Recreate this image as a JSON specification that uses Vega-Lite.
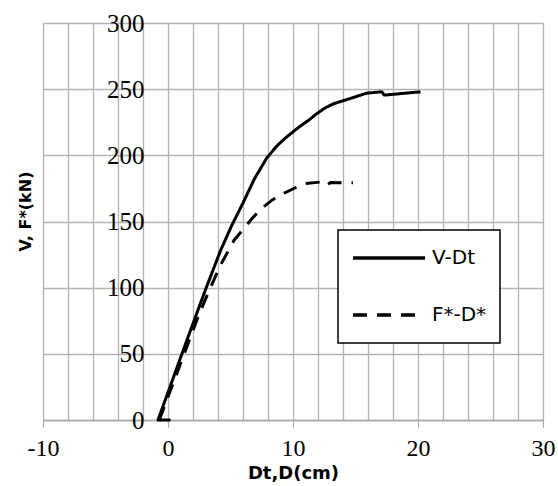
{
  "$schema": "https://vega.github.io/schema/vega-lite/v6.json",
  "width": 500,
  "height": 397,
  "autosize": {"type": "none"},
  "padding": {"left": 43, "top": 23, "right": 15, "bottom": 66},
  "background": "white",
  "config": {
    "view": {"stroke": null},
    "legend": {"strokeWidth": 1.5}
  },
  "data": {
    "values": [
      {"s": "V-Dt", "i": 0, "x": 0.2, "y": 0},
      {"s": "V-Dt", "i": 1, "x": -0.8, "y": 0},
      {"s": "V-Dt", "i": 2, "x": 1.5, "y": 60},
      {"s": "V-Dt", "i": 3, "x": 2.9, "y": 96},
      {"s": "V-Dt", "i": 4, "x": 4.2, "y": 128},
      {"s": "V-Dt", "i": 5, "x": 5.1, "y": 147},
      {"s": "V-Dt", "i": 6, "x": 6.0, "y": 164},
      {"s": "V-Dt", "i": 7, "x": 6.9, "y": 182},
      {"s": "V-Dt", "i": 8, "x": 7.9, "y": 198},
      {"s": "V-Dt", "i": 9, "x": 8.7, "y": 207},
      {"s": "V-Dt", "i": 10, "x": 9.5, "y": 214},
      {"s": "V-Dt", "i": 11, "x": 10.5, "y": 221.5},
      {"s": "V-Dt", "i": 12, "x": 11.25, "y": 226.5},
      {"s": "V-Dt", "i": 13, "x": 11.9, "y": 231.5},
      {"s": "V-Dt", "i": 14, "x": 12.6, "y": 236},
      {"s": "V-Dt", "i": 15, "x": 13.25, "y": 239},
      {"s": "V-Dt", "i": 16, "x": 14.6, "y": 243},
      {"s": "V-Dt", "i": 17, "x": 15.9, "y": 247},
      {"s": "V-Dt", "i": 18, "x": 17.1, "y": 248},
      {"s": "V-Dt", "i": 19, "x": 17.3, "y": 245.5},
      {"s": "V-Dt", "i": 20, "x": 20.2, "y": 248},
      {"s": "F*-D*", "i": 0, "x": -0.7, "y": 0},
      {"s": "F*-D*", "i": 1, "x": 0.9, "y": 40},
      {"s": "F*-D*", "i": 2, "x": 2.45, "y": 79},
      {"s": "F*-D*", "i": 3, "x": 3.3, "y": 98},
      {"s": "F*-D*", "i": 4, "x": 4.2, "y": 117},
      {"s": "F*-D*", "i": 5, "x": 5.3, "y": 136},
      {"s": "F*-D*", "i": 6, "x": 6.7, "y": 152},
      {"s": "F*-D*", "i": 7, "x": 7.5, "y": 160},
      {"s": "F*-D*", "i": 8, "x": 8.3, "y": 166},
      {"s": "F*-D*", "i": 9, "x": 9.3, "y": 171.5},
      {"s": "F*-D*", "i": 10, "x": 10.3, "y": 176},
      {"s": "F*-D*", "i": 11, "x": 11.0, "y": 178.7},
      {"s": "F*-D*", "i": 12, "x": 12.4, "y": 180},
      {"s": "F*-D*", "i": 13, "x": 12.7, "y": 177.5},
      {"s": "F*-D*", "i": 14, "x": 13.0, "y": 179.5},
      {"s": "F*-D*", "i": 15, "x": 14.8, "y": 179.2}
    ]
  },
  "mark": {"type": "line", "color": "black", "strokeWidth": 3, "strokeCap": "butt", "strokeJoin": "round"},
  "encoding": {
    "x": {
      "field": "x",
      "type": "quantitative",
      "scale": {"domain": [-10, 30], "nice": false, "zero": false},
      "axis": {
        "values": [-10, -8, -6, -4, -2, 0, 2, 4, 6, 8, 10, 12, 14, 16, 18, 20, 22, 24, 26, 28, 30],
        "labelExpr": "datum.value % 10 === 0 ? '' + datum.value : ''",
        "labelOverlap": false,
        "labelFlush": false,
        "labelFont": "Liberation Serif",
        "labelFontSize": 24,
        "labelColor": "black",
        "labelPadding": 9,
        "tickSize": 7,
        "tickColor": "#a6a6a6",
        "tickOpacity": {"condition": {"test": "datum.value % 10 === 0", "value": 1}, "value": 0},
        "domainColor": "#a6a6a6",
        "domainWidth": 1.3,
        "grid": true,
        "gridColor": "#b3b3b3",
        "gridWidth": 1.3,
        "title": "Dt,D(cm)",
        "titleFont": "DejaVu Sans",
        "titleFontWeight": "bold",
        "titleFontSize": 18,
        "titleColor": "black",
        "titleBaseline": "alphabetic",
        "titleY": 58
      }
    },
    "y": {
      "field": "y",
      "type": "quantitative",
      "scale": {"domain": [0, 300], "nice": false},
      "axis": {
        "values": [0, 50, 100, 150, 200, 250, 300],
        "offset": -125,
        "domain": false,
        "ticks": false,
        "tickSize": 0,
        "labelPadding": 24,
        "labelFlush": false,
        "labelOverlap": false,
        "labelFont": "Liberation Serif",
        "labelFontSize": 25,
        "labelColor": "black",
        "grid": true,
        "gridColor": "#b3b3b3",
        "gridWidth": 1.3,
        "title": "V, F*(kN)",
        "titleFont": "DejaVu Sans",
        "titleFontWeight": "bold",
        "titleFontSize": 16,
        "titleColor": "black",
        "titleAngle": -90,
        "titleAlign": "center",
        "titleBaseline": "middle",
        "titleX": -143,
        "titleY": 188
      }
    },
    "strokeDash": {
      "field": "s",
      "type": "nominal",
      "scale": {"domain": ["V-Dt", "F*-D*"], "range": [[1, 0], [14, 10]]},
      "legend": {
        "orient": "none",
        "legendX": 295,
        "legendY": 207,
        "title": null,
        "symbolType": "stroke",
        "symbolSize": 5184,
        "symbolStrokeWidth": 3.5,
        "symbolStrokeColor": "black",
        "clipHeight": 30,
        "rowPadding": 27,
        "padding": 13,
        "labelFont": "DejaVu Sans",
        "labelFontSize": 20,
        "labelColor": "black",
        "labelOffset": 5,
        "labelLimit": 200,
        "fillColor": "white",
        "strokeColor": "black"
      }
    },
    "order": {"field": "i", "type": "quantitative"}
  }
}
